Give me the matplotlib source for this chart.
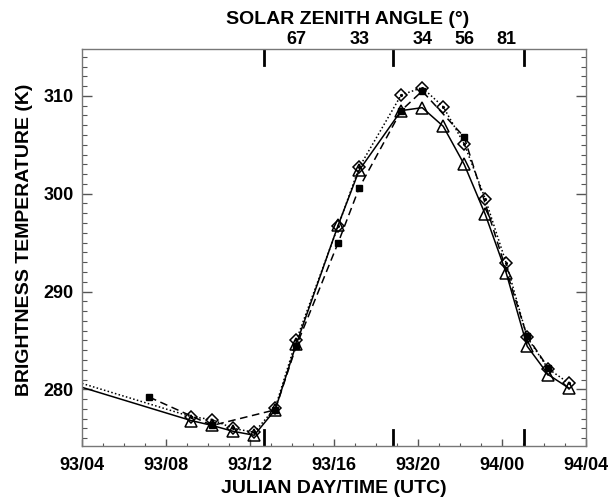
import numpy as np
import matplotlib
matplotlib.use('Agg')
import matplotlib.pyplot as plt
from matplotlib.ticker import MultipleLocator

plt.rcParams['font.family'] = ['Liberation Sans', 'DejaVu Sans']
plt.rcParams['font.weight'] = 'bold'

# time in hours after day 93, 00 UTC
hours = [4.0, 9.2, 10.2, 11.2, 12.2, 13.2, 14.2, 16.2, 17.2, 19.2, 20.2,
         21.2, 22.2, 23.2, 24.2, 25.2, 26.2, 27.2]
tb_tri = [280.2, 276.8, 276.3, 275.7, 275.3, 277.9, 284.6, 296.8, 302.4,
          308.5, 308.8, 306.9, 303.0, 297.9, 291.9, 284.4, 281.5, 280.1]
tb_dia = [280.6, 277.2, 276.9, 276.0, 275.6, 278.1, 285.0, 296.7, 302.7,
          310.1, 310.85, 308.9, 305.1, 299.5, 292.9, 285.3, 282.1, 280.6]

hours_sq = [7.2, 10.2, 13.2, 14.2, 16.2, 17.2, 19.2, 20.2, 22.2, 25.2, 26.2]
tb_sq = [279.2, 276.3, 277.9, 284.4, 295.0, 300.6, 308.5, 310.5, 305.8,
         285.4, 282.2]

zen_hours = [14.2, 17.2, 20.2, 22.2, 24.2]
zen_labels = ['67', '33', '34', '56', '81']
mark_hours = [12.67, 18.83, 25.07]

tick_hours = [4, 8, 12, 16, 20, 24, 28]
tick_labels = ['93/04', '93/08', '93/12', '93/16', '93/20', '94/00', '94/04']

fig = plt.figure(figsize=(6.11, 4.98), dpi=100)
ax = fig.add_axes([82/611, 1-446/498, 504/611, 397/498])

ax.plot(hours, tb_tri, color='k', lw=1.1, marker='^', ms=8.5, mfc='none',
        mec='k', mew=1.1, markevery=slice(1, None))
ax.plot(hours, tb_dia, color='k', lw=1.1, ls=(0, (1, 1.5)), marker='D', ms=6.5,
        mfc='none', mec='k', mew=1.1, markevery=slice(1, None))
ax.plot(hours[1:], tb_dia[1:], ls='none', marker='.', ms=2.5, color='k')
ax.plot(hours_sq, tb_sq, color='k', lw=1.1, ls=(0, (5, 3)), marker='s',
        ms=4.5, mfc='k', mec='k')

ax.set_xlim(4, 28)
ax.set_ylim(274.2, 314.8)
ax.set_xticks(tick_hours)
ax.set_xticklabels(tick_labels)
ax.xaxis.set_minor_locator(MultipleLocator(1))
ax.set_yticks([280, 290, 300, 310])
ax.yaxis.set_minor_locator(MultipleLocator(1))

ax.tick_params(axis='both', which='both', direction='in', top=True, right=True,
               color='#555555', labelsize=13)
ax.tick_params(axis='x', which='major', length=5, width=1, pad=8)
ax.tick_params(axis='x', which='minor', length=2.5, width=0.8)
ax.tick_params(axis='y', which='major', length=7, width=1, pad=6)
ax.tick_params(axis='y', which='minor', length=3.5, width=0.8)
for s in ax.spines.values():
    s.set_color('#777777')
    s.set_linewidth(1.0)

# heavy marks on top and bottom edges
for h in mark_hours:
    ax.axvline(h, 0, 16/397, color='k', lw=2)
    ax.axvline(h, 1-16/397, 1, color='k', lw=2)

ax.set_xlabel('JULIAN DAY/TIME (UTC)', fontsize=14, fontweight='bold')
ax.xaxis.set_label_coords(0.5, -0.085)
ax.set_ylabel('BRIGHTNESS TEMPERATURE (K)', fontsize=14, fontweight='bold')
ax.yaxis.set_label_coords(-0.098, 0.52)

# solar zenith angle along the top
top = ax.twiny()
top.set_xlim(ax.get_xlim())
top.set_xticks(zen_hours)
top.set_xticklabels(zen_labels)
top.tick_params(axis='x', length=0, labelsize=13, pad=1)
for s in top.spines.values():
    s.set_visible(False)
top.set_xlabel('SOLAR ZENITH ANGLE (\u00b0)', fontsize=14, fontweight='bold')
top.xaxis.set_label_coords(0.528, 1.062)

fig.savefig('out.png', dpi=100)
